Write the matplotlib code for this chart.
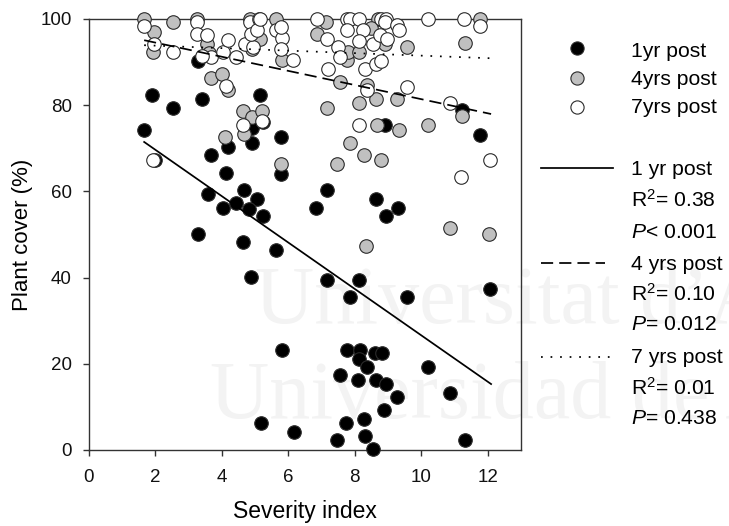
import matplotlib
matplotlib.use("Agg")
import matplotlib.pyplot as plt
import numpy as np
from matplotlib.lines import Line2D

plt.rcParams['font.family'] = ['Liberation Sans', 'DejaVu Sans']
plt.rcParams['mathtext.fontset'] = 'custom'
plt.rcParams['mathtext.rm'] = 'Liberation Sans'
plt.rcParams['mathtext.it'] = 'Liberation Sans:italic'

# ---- data ----
yr1_x = [1.66, 1.90, 2.54, 3.39, 3.29, 3.67, 4.18, 4.12, 4.92, 4.90, 5.15, 5.24, 5.78, 5.78,
         3.57, 4.67, 5.07, 4.02, 4.42, 4.80, 5.25, 3.27, 4.63, 5.62, 4.86, 5.80, 5.18, 6.17,
         8.92, 11.22, 11.76, 7.16, 8.64, 9.30, 6.84, 8.95, 7.16, 8.11, 7.84, 9.57, 12.06,
         7.76, 8.16, 8.61, 8.82, 8.11, 8.38, 10.20, 7.54, 8.09, 8.64, 8.94, 9.27, 10.85,
         8.87, 8.28, 7.74, 7.46, 8.31, 11.30, 8.56, 2.00]
yr1_y = [74.3, 82.3, 79.3, 81.4, 90.2, 68.4, 70.3, 64.3, 74.6, 71.2, 82.3, 76.1, 72.6, 64.1,
         59.3, 60.3, 58.2, 56.2, 57.2, 56.0, 54.3, 50.2, 48.3, 46.3, 40.1, 23.3, 6.3, 4.2,
         75.3, 78.8, 73.2, 60.3, 58.2, 56.2, 56.2, 54.3, 39.4, 39.4, 35.4, 35.4, 37.3,
         23.3, 23.3, 22.4, 22.4, 21.2, 19.3, 19.3, 17.3, 16.2, 16.3, 15.2, 12.3, 13.2,
         9.2, 7.3, 6.3, 2.4, 3.2, 2.4, 0.3, 67.3]

yr4_x = [1.66, 1.97, 1.94, 2.53, 3.26, 3.56, 3.67, 4.00, 4.18, 4.63, 4.92, 4.65, 5.20, 4.10,
         5.78, 4.85, 5.63, 4.90, 5.00, 5.80, 5.15, 7.14, 6.86, 7.76, 7.79, 8.13, 8.71, 8.92,
         9.57, 11.76, 11.30, 7.54, 8.38, 8.64, 9.27, 8.11, 7.16, 11.22, 8.67, 9.32, 10.20,
         7.84, 8.28, 8.80, 7.46, 8.33, 10.85, 12.05, 3.60, 8.50]
yr4_y = [100.0, 97.0, 92.3, 99.3, 100.0, 94.3, 86.3, 87.3, 83.6, 78.6, 77.3, 73.4, 78.6, 72.6,
         66.4, 100.0, 100.0, 93.0, 95.0, 90.4, 95.4, 99.3, 96.6, 90.4, 92.3, 92.3, 100.0, 94.3,
         93.4, 100.0, 94.4, 85.4, 84.6, 81.4, 81.4, 80.4, 79.3, 77.4, 75.3, 74.3, 75.3,
         71.3, 68.4, 67.4, 66.4, 47.3, 51.4, 50.2, 92.0, 98.0]

yr7_x = [1.66, 1.96, 2.54, 3.26, 3.24, 3.56, 3.67, 3.40, 4.03, 4.18, 4.43, 4.68, 4.95, 4.85,
         5.13, 4.87, 5.07, 5.63, 5.80, 5.78, 5.78, 6.15, 4.12, 4.62, 5.22, 1.94, 5.15, 6.86,
         7.16, 7.48, 7.18, 7.76, 7.86, 8.14, 7.76, 8.26, 8.11, 7.56, 8.56, 8.31, 8.64, 8.80,
         8.79, 8.95, 8.92, 8.77, 8.97, 9.27, 9.32, 10.20, 11.27, 11.76, 8.36, 9.57, 10.85,
         8.11, 12.06, 11.20]
yr7_y = [98.3, 94.3, 92.3, 99.3, 96.6, 96.4, 91.2, 91.5, 92.3, 95.2, 91.2, 94.3, 93.5, 99.3,
         100.0, 96.6, 97.4, 97.4, 95.5, 98.1, 93.1, 90.4, 84.4, 75.3, 76.3, 67.2, 100.0, 100.0,
         95.4, 93.4, 88.3, 100.0, 100.0, 100.0, 97.4, 97.4, 95.0, 91.2, 94.3, 88.3, 89.5, 90.3,
         100.0, 100.0, 99.4, 96.2, 95.4, 98.5, 97.4, 100.0, 100.0, 98.3, 83.5, 84.2, 80.4,
         75.3, 67.4, 63.3]

# regression fits (slope, intercept) and x-range of fitted lines
fit_labels = ["1 yr post", "4 yrs post", "7 yrs post"]
fit_slope = [-5.38, -1.64, -0.29]
fit_intercept = [80.4, 97.8, 94.4]
fit_xrange = [1.66, 12.1]
fit_r2 = ["0.38", "0.10", "0.01"]
fit_p = ["< 0.001", "= 0.012", "= 0.438"]

series_labels = ["1yr post", "4yrs post", "7yrs post"]
x_ticks = [0, 2, 4, 6, 8, 10, 12]
y_ticks = [0, 20, 40, 60, 80, 100]

# ---- figure ----
W, H = 729, 526
fig = plt.figure(figsize=(W / 100, H / 100), dpi=100)
ax = fig.add_axes([89 / W, 1 - 450 / H, 432 / W, 431 / H])
ax.patch.set_alpha(0)

# faint watermark
wm = dict(family=['Liberation Serif', 'DejaVu Serif'], fontsize=59, color='#f3f3f3', zorder=-5)
fig.text(255 / W, 1 - 323 / H, "Universitat d\u2019Alacant", **wm)
fig.text(210 / W, 1 - 418 / H, "Universidad de Alicante", **wm)

ms = 95
edge = '#2a2a2a'
ax.scatter(yr1_x, yr1_y, s=ms, c='#000000', edgecolors=edge, linewidths=0.8, zorder=3, clip_on=False)
ax.scatter(yr4_x, yr4_y, s=ms, c='#c0c0c0', edgecolors=edge, linewidths=0.8, zorder=4, clip_on=False)
ax.scatter(yr7_x, yr7_y, s=ms, c='#ffffff', edgecolors=edge, linewidths=0.8, zorder=5, clip_on=False)

styles = ['-', (0, (7, 3.5)), (0, (1, 4.5))]
xs = np.array(fit_xrange)
for m, b, ls in zip(fit_slope, fit_intercept, styles):
    ax.plot(xs, m * xs + b, color='black', lw=1.25, ls=ls, zorder=6)

ax.set_xlim(0, 13)
ax.set_ylim(0, 100)
ax.set_xticks(x_ticks)
ax.set_yticks(y_ticks)
ax.tick_params(direction='out', length=4.5, width=1, labelsize=13.5, color='#333333',
               labelcolor='#111111', top=False, right=False)
ax.tick_params(axis='x', pad=9)
ax.tick_params(axis='y', pad=8)
for sp in ax.spines.values():
    sp.set_color('#333333')
    sp.set_linewidth(1)
ax.set_xlabel("Severity index", fontsize=16.5, labelpad=10)
ax.set_ylabel("Plant cover (%)", fontsize=16, labelpad=5)

LFS = 15.2
# legend for series (markers)
face = ['#000000', '#c0c0c0', '#ffffff']
marker_y = [48, 77.5, 106.5]
text_base = [56.7, 85, 113.3]
for lab, fc, yy, tb in zip(series_labels, face, marker_y, text_base):
    fig.add_artist(Line2D([577 / W], [1 - yy / H], marker='o', markersize=9.5,
                          markerfacecolor=fc, markeredgecolor=edge, markeredgewidth=0.8, ls='none'))
    fig.text(631 / W, 1 - tb / H, lab, fontsize=LFS, va='baseline', ha='left')

# legend for fits
line_y = [168.3, 262.7, 356.7]
line_x1 = [612.7, 605, 610]
tb_fit = [[175, 206.5, 237.5], [269.5, 301, 330], [363, 395, 424]]
for lab, r2, p, ls, ly, lx1, tbs in zip(fit_labels, fit_r2, fit_p, styles, line_y, line_x1, tb_fit):
    fig.add_artist(Line2D([541 / W, lx1 / W], [1 - ly / H] * 2, color='black', lw=1.25, ls=ls))
    fig.text(631 / W, 1 - tbs[0] / H, lab, fontsize=LFS, va='baseline', ha='left')
    fig.text(631 / W, 1 - tbs[1] / H, r"R$^2$= " + r2, fontsize=LFS, va='baseline', ha='left')
    fig.text(631 / W, 1 - tbs[2] / H, r"$\it{P}$" + p, fontsize=LFS, va='baseline', ha='left')

fig.savefig("out.png", dpi=100)
